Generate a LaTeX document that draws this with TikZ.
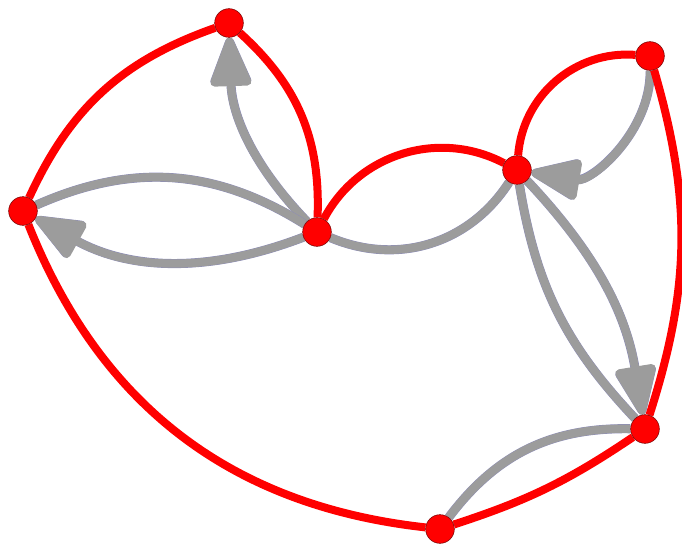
\documentclass[tikz,border=0pt]{standalone}
\usetikzlibrary{arrows.meta}
\pgfdeclarelayer{bg}
\pgfsetlayers{bg,main}
\begin{document}
\begin{tikzpicture}[x=0.75pt,y=0.75pt,
  vtx/.style={circle,fill=red,draw=red!45!black,line width=0.4pt,minimum size=21.5pt,inner sep=0pt},
  redge/.style={draw=red,line width=6pt},
  gedge/.style={draw=black!39, line width=6.2pt, preaction={draw=blue!40!black!45,line width=6.8pt}},
  garrow/.style={gedge,-{Triangle[round,length=42pt,width=32pt]}}]
\useasboundingbox (0,0) rectangle (682,544);
\node[vtx] (A) at (229,521) {};
\node[vtx] (B) at (23,333) {};
\node[vtx] (C) at (317,312) {};
\node[vtx] (D) at (517,374) {};
\node[vtx] (E) at (650,488) {};
\node[vtx] (F) at (645,115) {};
\node[vtx] (G) at (440,15) {};
\begin{pgfonlayer}{bg}
\draw[garrow] (C) to[bend left=21] (A);
\draw[garrow] (C) to[bend left=25] (B);
\draw[gedge] (B) to[bend left=28] (C);
\draw[gedge] (C) to[bend right=40] (D);
\draw[garrow] (E) to[bend left=50] (D);
\draw[garrow] (D) to[bend left=17] (F);
\draw[gedge] (D) to[bend right=17] (F);
\draw[gedge] (G) to[bend left=27] (F);
\draw[redge] (A) to[bend right=23] (B);
\draw[redge] (A) to[bend left=25] (C);
\draw[redge] (C) to[bend left=45] (D);
\draw[redge] (D) to[bend left=45] (E);
\draw[redge] (E) to[bend left=17] (F);
\draw[redge] (F) to[bend left=8] (G);
\draw[redge] (B) to[bend right=31] (G);
\end{pgfonlayer}
\end{tikzpicture}
\end{document}
